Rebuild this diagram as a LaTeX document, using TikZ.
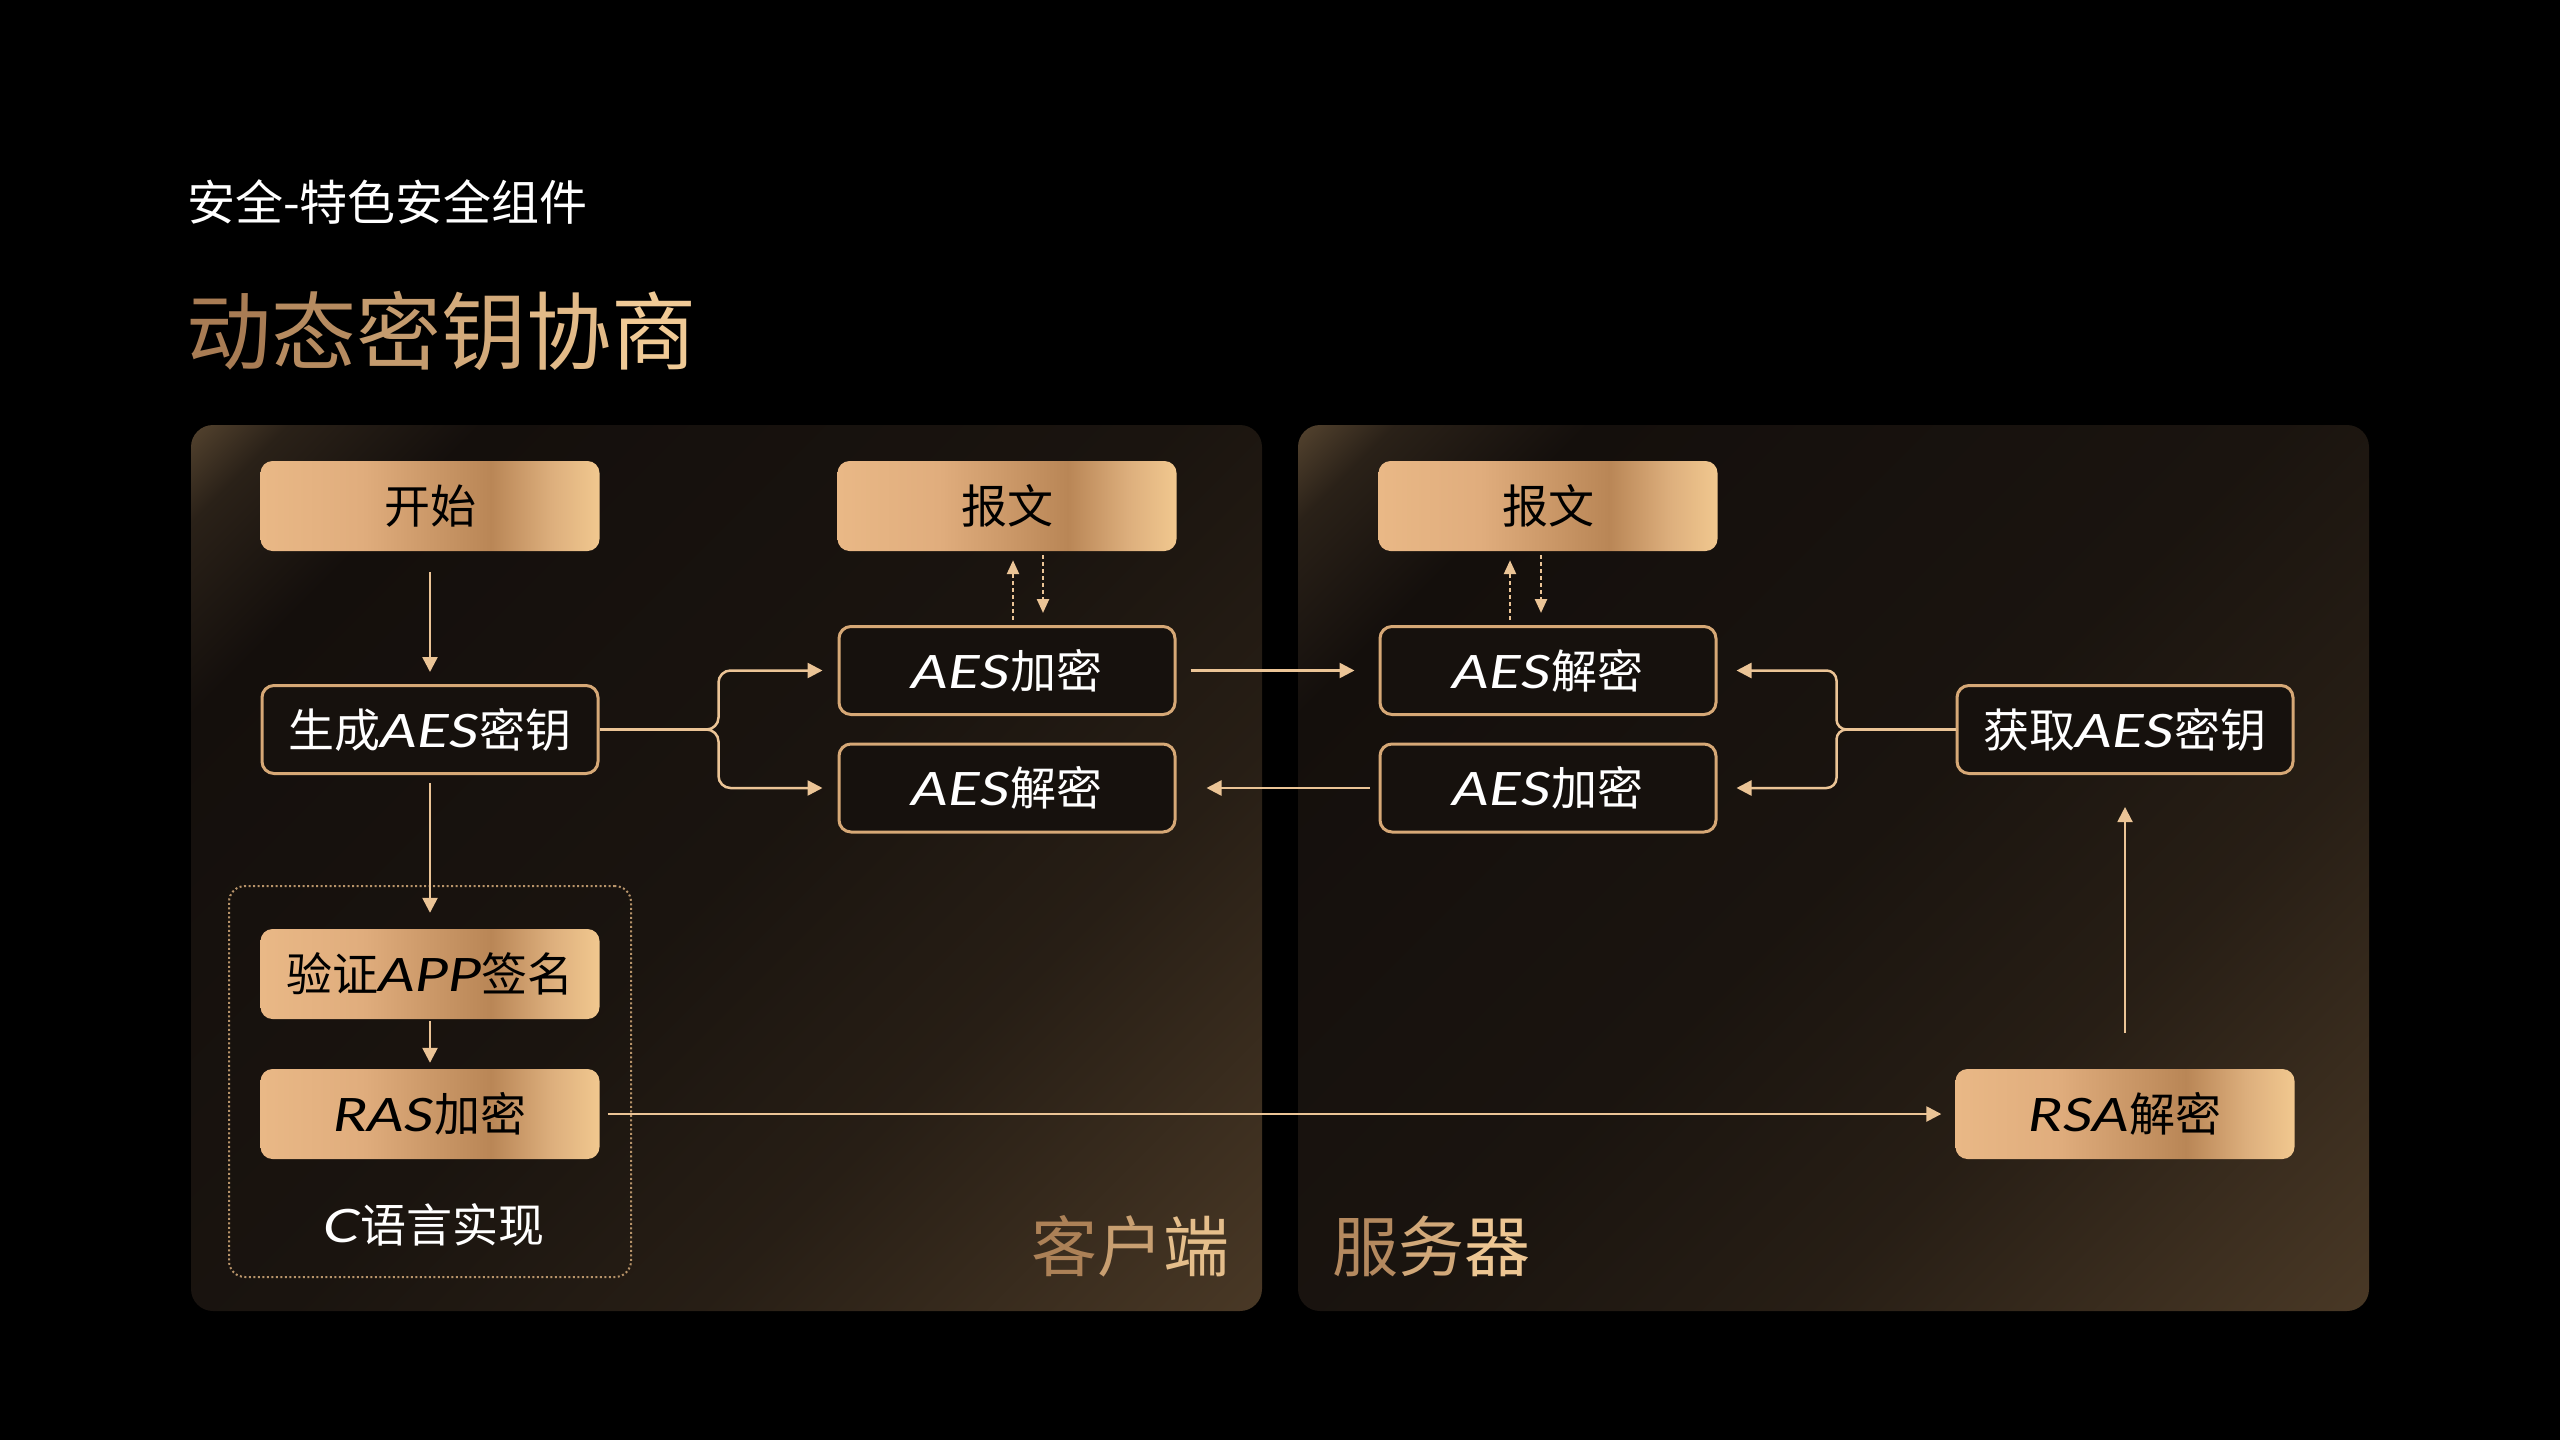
\documentclass[tikz,border=0pt]{standalone}
\usepackage{fontspec}
\setmainfont{Noto Sans CJK SC}
\newfontfamily\latn{Lato}[FakeStretch=1.28]
\usetikzlibrary{arrows.meta,calc}

\definecolor{gA}{HTML}{E9B886}
\definecolor{gA2}{HTML}{E0AD7D}
\definecolor{gC}{HTML}{B98656}
\definecolor{gB2}{HTML}{DDAF7D}
\definecolor{gD}{HTML}{F1C88F}
\definecolor{lineg}{HTML}{EBC496}
\definecolor{bord}{HTML}{D6A876}
\definecolor{darkfill}{HTML}{16110D}
\definecolor{dotc}{HTML}{B8946A}
\definecolor{tA}{HTML}{A47850}
\definecolor{tB}{HTML}{F5CF9A}
\definecolor{p0}{HTML}{5A4832}
\definecolor{p1}{HTML}{2A2118}
\definecolor{p2}{HTML}{140F0C}
\definecolor{p3}{HTML}{1A140F}
\definecolor{p4}{HTML}{271E15}
\definecolor{p5}{HTML}{4A3926}

\pgfdeclarehorizontalshading{goldsh}{100bp}{color(0bp)=(gA); color(25bp)=(gA); color(40bp)=(gA2); color(59bp)=(gC); color(68bp)=(gB2); color(75bp)=(gD); color(100bp)=(gD)}
\pgfdeclarehorizontalshading{panelsh}{100bp}{color(0bp)=(p0); color(14bp)=(p0); color(18bp)=(p1); color(25bp)=(p2); color(50bp)=(p3); color(65bp)=(p4); color(86bp)=(p5); color(100bp)=(p5)}

\newcommand\LT[1]{{\latn\itshape #1}}
\newcommand\gc[2]{{\color{tB!#1!tA}#2}}

\tikzset{
  goldbox/.style={rounded corners=12pt, minimum width=339pt, minimum height=90pt, inner sep=0pt,
    shading=goldsh, text=black, font=\fontsize{46}{52}\selectfont},
  darkbox/.style={rounded corners=12pt, minimum width=336pt, minimum height=88pt, inner sep=0pt,
    fill=darkfill, draw=bord, line width=3pt, text=white, font=\fontsize{46}{52}\selectfont},
  conline/.style={draw=lineg, line width=2.5pt},
  arr/.style={conline, -{Triangle[length=15pt,width=15pt]}},
  dasharr/.style={draw=lineg, line width=2.5pt, dash pattern=on 4pt off 3pt, -{Triangle[length=14pt,width=12pt]}},
  panel/.style={rounded corners=22pt, shading=panelsh, shading angle=-45, minimum width=1071pt,
    minimum height=886pt, inner sep=0pt},
  dotbox/.style={draw=dotc, line width=2pt, dash pattern=on 2pt off 2.5pt, rounded corners=16pt,
    minimum width=402pt, minimum height=391pt, inner sep=0pt},
}

\begin{document}
\begin{tikzpicture}[x=1pt,y=-1pt]
  \useasboundingbox (0,0) rectangle (2560,1440);
  \fill[black] (0,0) rectangle (2560,1440);

  % panels
  \node[panel] (client) at (726.5,868) {};
  \node[panel] (server) at (1833.5,868) {};

  % headings
  \node[anchor=west, inner sep=0pt, text=white, font=\fontsize{48}{54}\selectfont] (sub) at (187,202) {安全-特色安全组件};
  \node[anchor=west, inner sep=0pt, font=\fontsize{85}{90}\selectfont] (title) at (186,331)
    {\gc{5}{动}\gc{22}{态}\gc{40}{密}\gc{58}{钥}\gc{76}{协}\gc{94}{商}};
  \node[inner sep=0pt, font=\fontsize{66}{70}\selectfont] (lclient) at (1130,1246)
    {\gc{10}{客}\gc{45}{户}\gc{80}{端}};
  \node[inner sep=0pt, font=\fontsize{66}{70}\selectfont] (lserver) at (1431,1246)
    {\gc{20}{服}\gc{55}{务}\gc{90}{器}};

  % C box
  \node[dotbox] (cbox) at (430,1081.5) {};
  \node[text=white, inner sep=0pt, font=\fontsize{46}{52}\selectfont] (ctext) at (434,1225) {\LT{C}语言实现};

  % client nodes
  \node[goldbox] (start) at (430,506) {开始};
  \node[darkbox] (gen) at (430,729.5) {生成\LT{AES}密钥};
  \node[goldbox] (msg1) at (1007,506) {报文};
  \node[darkbox] (enc1) at (1007,670.5) {\LT{AES}加密};
  \node[darkbox] (dec1) at (1007,788) {\LT{AES}解密};
  \node[goldbox] (verify) at (430,974) {验证\LT{APP}签名};
  \node[goldbox] (ras) at (430,1114) {\LT{RAS}加密};

  % server nodes
  \node[goldbox] (msg2) at (1548,506) {报文};
  \node[darkbox] (dec2) at (1548,670.5) {\LT{AES}解密};
  \node[darkbox] (enc2) at (1548,788) {\LT{AES}加密};
  \node[darkbox] (get) at (2125,729.5) {获取\LT{AES}密钥};
  \node[goldbox] (rsa) at (2125,1114) {\LT{RSA}解密};

  % connectors client
  \draw[arr, shorten <=21pt, shorten >=12pt] (start) -- (gen);
  \draw[arr, shorten <=8pt, shorten >=16pt] (gen) -- (verify);
  \draw[arr, shorten <=2pt, shorten >=6pt] (verify) -- (ras);

  \coordinate (bl) at (707,729.5);
  \draw[conline] (gen.east) -- (bl);
  \draw[arr, rounded corners=12pt, shorten >=15pt] (bl) -| ($(enc1.west)+(-119,0)$) -- (enc1.west);
  \draw[arr, rounded corners=12pt, shorten >=15pt] (bl) -| ($(dec1.west)+(-119,0)$) -- (dec1.west);

  \draw[dasharr, shorten <=5pt, shorten >=9pt] ($(enc1.north)+(6,0)$) -- ($(msg1.south)+(6,0)$);
  \draw[dasharr, shorten <=4pt, shorten >=12pt] ($(msg1.south)+(36,0)$) -- ($(enc1.north)+(36,0)$);

  % cross
  \draw[arr, shorten <=14pt, shorten >=24pt] (enc1.east) -- (dec2.west);
  \draw[arr, shorten <=9pt, shorten >=30pt] (enc2.west) -- (dec1.east);

  % server
  \draw[dasharr, shorten <=5pt, shorten >=9pt] ($(dec2.north)+(-38,0)$) -- ($(msg2.south)+(-38,0)$);
  \draw[dasharr, shorten <=4pt, shorten >=12pt] ($(msg2.south)+(-7,0)$) -- ($(dec2.north)+(-7,0)$);

  \coordinate (brc) at (1846,729.5);
  \draw[conline] (get.west) -- (brc);
  \draw[arr, rounded corners=10pt, shorten >=19pt] (brc) -| ($(dec2.east)+(119,0)$) -- (dec2.east);
  \draw[arr, rounded corners=10pt, shorten >=19pt] (brc) -| ($(enc2.east)+(119,0)$) -- (enc2.east);

  \draw[arr, shorten <=8pt, shorten >=14pt] (ras.east) -- (rsa.west);
  \draw[arr, line width=2pt, shorten <=36pt, shorten >=32pt] (rsa) -- (get);
\end{tikzpicture}
\end{document}
